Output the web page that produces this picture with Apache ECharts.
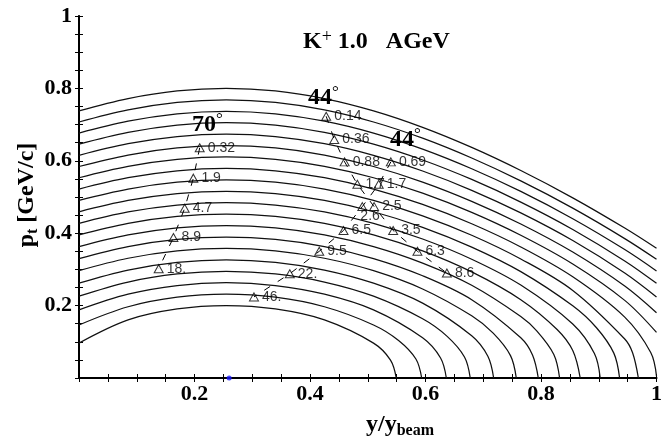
<!DOCTYPE html>
<html>
<head>
<meta charset="utf-8">
<script src="https://cdn.jsdelivr.net/npm/echarts@6/dist/echarts.min.js"></script>
<style>
  html, body { margin: 0; padding: 0; background: #fff; }
  #chart { width: 665px; height: 438px; }
</style>
</head>
<body>
<div id="chart"></div>
<script>
// Lines of constant kaon momentum (0.20 ... 0.80 GeV/c), sampled as [y/ybeam, pt]
const curveP200 = [[0,0.0964],[0.085,0.1605],[0.17,0.1907],[0.255,0.2],[0.34,0.1907],[0.425,0.1605],[0.51,0.0964],[0.5394,0.0495],[0.5494,0]];
const curveP232 = [[0,0.1465],[0.085,0.1968],[0.17,0.2232],[0.255,0.2316],[0.34,0.2232],[0.425,0.1968],[0.51,0.1465],[0.5534,0.1037],[0.5834,0.0525],[0.5934,0]];
const curveP263 = [[0,0.1882],[0.085,0.2315],[0.17,0.2554],[0.255,0.2632],[0.34,0.2554],[0.425,0.2315],[0.51,0.1882],[0.595,0.1111],[0.6261,0.0554],[0.6361,0]];
const curveP295 = [[0,0.2260],[0.085,0.2651],[0.17,0.2874],[0.255,0.2947],[0.34,0.2874],[0.425,0.2651],[0.51,0.2260],[0.595,0.1635],[0.6375,0.1150],[0.6675,0.0579],[0.6775,0]];
const curveP326 = [[0,0.2619],[0.085,0.2982],[0.17,0.3193],[0.255,0.3263],[0.34,0.3193],[0.425,0.2982],[0.51,0.2619],[0.595,0.2068],[0.68,0.1166],[0.708,0.0600],[0.718,0]];
const curveP358 = [[0,0.2964],[0.085,0.3308],[0.17,0.3512],[0.255,0.3579],[0.34,0.3512],[0.425,0.3308],[0.51,0.2964],[0.595,0.2459],[0.68,0.1717],[0.7172,0.1238],[0.7472,0.0619],[0.7572,0]];
const curveP389 = [[0,0.3300],[0.085,0.3632],[0.17,0.3829],[0.255,0.3895],[0.34,0.3829],[0.425,0.3632],[0.51,0.3300],[0.595,0.2825],[0.68,0.2164],[0.765,0.1110],[0.7853,0.0636],[0.7953,0]];
const curveP421 = [[0,0.3630],[0.085,0.3952],[0.17,0.4146],[0.255,0.4211],[0.34,0.4146],[0.425,0.3952],[0.51,0.3630],[0.595,0.3174],[0.68,0.2562],[0.765,0.1700],[0.7922,0.1309],[0.8222,0.0651],[0.8322,0]];
const curveP453 = [[0,0.3953],[0.085,0.4270],[0.17,0.4462],[0.255,0.4526],[0.34,0.4462],[0.425,0.4270],[0.51,0.3953],[0.595,0.3511],[0.68,0.2930],[0.765,0.2162],[0.8279,0.1338],[0.855,0.0757],[0.8679,0]];
const curveP484 = [[0,0.4274],[0.085,0.4588],[0.17,0.4778],[0.255,0.4842],[0.34,0.4778],[0.425,0.4588],[0.51,0.4274],[0.595,0.3840],[0.68,0.3281],[0.765,0.2567],[0.855,0.1490],[0.8925,0.0676],[0.9025,0]];
const curveP516 = [[0,0.4592],[0.085,0.4904],[0.17,0.5094],[0.255,0.5158],[0.34,0.5094],[0.425,0.4904],[0.51,0.4592],[0.595,0.4163],[0.68,0.3617],[0.765,0.2939],[0.855,0.1994],[0.8961,0.1388],[0.9261,0.0687],[0.9361,0]];
const curveP547 = [[0,0.4908],[0.085,0.5219],[0.17,0.5410],[0.255,0.5474],[0.34,0.5410],[0.425,0.5219],[0.51,0.4908],[0.595,0.4481],[0.68,0.3944],[0.765,0.3288],[0.855,0.2418],[0.945,0.1078],[0.9586,0.0696],[0.9686,0]];
const curveP579 = [[0,0.5220],[0.085,0.5533],[0.17,0.5724],[0.255,0.5789],[0.34,0.5724],[0.425,0.5533],[0.51,0.5220],[0.595,0.4794],[0.68,0.4261],[0.765,0.3620],[0.855,0.2796],[0.945,0.1682],[0.99,0.0705],[1.0,0.005]];
const curveP611 = [[0,0.5532],[0.085,0.5846],[0.17,0.6040],[0.255,0.6105],[0.34,0.6040],[0.425,0.5846],[0.51,0.5532],[0.595,0.5105],[0.68,0.4574],[0.765,0.3942],[0.855,0.3148],[0.945,0.2144],[1.0,0.1259]];
const curveP642 = [[0,0.5842],[0.085,0.6159],[0.17,0.6355],[0.255,0.6421],[0.34,0.6355],[0.425,0.6159],[0.51,0.5842],[0.595,0.5413],[0.68,0.4881],[0.765,0.4255],[0.855,0.3480],[0.945,0.2541],[1.0,0.1803]];
const curveP674 = [[0,0.6151],[0.085,0.6472],[0.17,0.6670],[0.255,0.6737],[0.34,0.6670],[0.425,0.6472],[0.51,0.6151],[0.595,0.5718],[0.68,0.5185],[0.765,0.4560],[0.855,0.3797],[0.945,0.2900],[1.0,0.2237]];
const curveP705 = [[0,0.6459],[0.085,0.6784],[0.17,0.6985],[0.255,0.7053],[0.34,0.6985],[0.425,0.6784],[0.51,0.6459],[0.595,0.6022],[0.68,0.5485],[0.765,0.4860],[0.855,0.4104],[0.945,0.3234],[1.0,0.2615]];
const curveP737 = [[0,0.6766],[0.085,0.7095],[0.17,0.7299],[0.255,0.7368],[0.34,0.7299],[0.425,0.7095],[0.51,0.6766],[0.595,0.6323],[0.68,0.5781],[0.765,0.5154],[0.855,0.4401],[0.945,0.3549],[1.0,0.2958]];
const curveP768 = [[0,0.7072],[0.085,0.7407],[0.17,0.7614],[0.255,0.7684],[0.34,0.7614],[0.425,0.7407],[0.51,0.7072],[0.595,0.6624],[0.68,0.6076],[0.765,0.5444],[0.855,0.4692],[0.945,0.3851],[1.0,0.3279]];
const curveP800 = [[0,0.7378],[0.085,0.7718],[0.17,0.7929],[0.255,0.8],[0.34,0.7929],[0.425,0.7718],[0.51,0.7378],[0.595,0.6923],[0.68,0.6369],[0.765,0.5731],[0.855,0.4977],[0.945,0.4142],[1.0,0.3583]];

const isoMomentumCurves = [
  curveP200, curveP232, curveP263, curveP295, curveP326, curveP358, curveP389,
  curveP421, curveP453, curveP484, curveP516, curveP547, curveP579, curveP611,
  curveP642, curveP674, curveP705, curveP737, curveP768, curveP800
];

// Measured K+ points at fixed laboratory angle: [y/ybeam, pt] and their yields
const angle70Points = [[0.209,0.636],[0.198,0.552],[0.183,0.469],[0.1635,0.388],[0.138,0.302]];
const angle70Labels = ['0.32','1.9','4.7','8.9','18.'];

const angle44aPoints = [[0.428,0.723],[0.442,0.659],[0.460,0.597],[0.482,0.535],[0.511,0.4735],[0.544,0.4075],[0.586,0.350],[0.637,0.290]];
const angle44aLabels = ['0.14','0.36','0.88','1.7','2.5','3.5','6.3','8.6'];

const angle44bPoints = [[0.540,0.597],[0.519,0.535],[0.4906,0.4735],[0.458,0.4075],[0.416,0.350],[0.365,0.288],[0.303,0.224]];
const angle44bLabels = ['0.69','1.7','2.6','6.5','9.5','22.','46.'];

// Mid-rapidity marker on the rapidity axis
const midRapidity = [[0.26, 0]];

// Axis tick labels, one for every fourth tick (0.05 spacing)
const axisTickLabels = { 4: '0.2', 8: '0.4', 12: '0.6', 16: '0.8', 20: '1' };

const SERIF = 'Liberation Serif, Times New Roman, serif';
const SANS = 'Liberation Sans, Arial, sans-serif';

function tickLabel(v) {
  const k = Math.round(v * 20);
  return axisTickLabels[k] || '';
}

const chart = echarts.init(document.getElementById('chart'), null, { renderer: 'canvas' });

const curveSeries = isoMomentumCurves.map(function (pts) {
  return {
    type: 'line',
    data: pts,
    smooth: 0.35,
    showSymbol: false,
    silent: true,
    clip: true,
    z: 2,
    lineStyle: { color: '#111', width: 1.25 }
  };
});

function angleLine(points) {
  return {
    type: 'line',
    data: points,
    showSymbol: false,
    silent: true,
    z: 3,
    lineStyle: { color: '#000', width: 1, type: [7, 9] }
  };
}

function anglePoints(points, labels, special) {
  return {
    type: 'scatter',
    z: 4,
    symbol: 'triangle',
    symbolSize: [9, 8],
    itemStyle: { color: 'rgba(0,0,0,0)', borderColor: '#000', borderWidth: 1 },
    data: points.map(function (p, i) {
      const item = { value: p };
      if (special && special[labels[i]]) item.label = special[labels[i]];
      return item;
    }),
    label: {
      show: true,
      position: 'right',
      distance: 3,
      color: '#000',
      fontFamily: SANS,
      fontSize: 14,
      formatter: function (params) { return labels[params.dataIndex]; }
    }
  };
}

const option = {
  animation: false,
  backgroundColor: '#fff',
  grid: { left: 79, right: 3, top: 16, bottom: 60 },
  xAxis: [
    {
      type: 'value', min: 0, max: 1, interval: 0.05, position: 'bottom',
      axisLine: { lineStyle: { color: '#000', width: 2 } },
      axisTick: { inside: true, length: 4, lineStyle: { color: '#000', width: 1 } },
      splitLine: { show: false },
      axisLabel: {
        formatter: tickLabel, color: '#000', fontFamily: SERIF,
        fontWeight: 'bold', fontSize: 22, margin: 5
      }
    },
    {
      type: 'value', min: 0, max: 1, interval: 0.05, position: 'top',
      axisLine: { lineStyle: { color: '#000', width: 1.5 } },
      axisTick: { inside: true, length: 4, lineStyle: { color: '#000', width: 1 } },
      splitLine: { show: false },
      axisLabel: { show: false }
    }
  ],
  yAxis: [
    {
      type: 'value', min: 0, max: 1, interval: 0.05, position: 'left',
      axisLine: { show: true, lineStyle: { color: '#000', width: 2 } },
      axisTick: { show: true, inside: true, length: 4, lineStyle: { color: '#000', width: 1 } },
      splitLine: { show: false },
      axisLabel: {
        formatter: tickLabel, color: '#000', fontFamily: SERIF,
        fontWeight: 'bold', fontSize: 22, margin: 7
      }
    },
    {
      type: 'value', min: 0, max: 1, interval: 0.05, position: 'right',
      axisLine: { show: true, lineStyle: { color: '#000', width: 1.5 } },
      axisTick: { show: true, inside: true, length: 4, lineStyle: { color: '#000', width: 1 } },
      splitLine: { show: false },
      axisLabel: { show: false }
    }
  ],
  series: curveSeries.concat([
    angleLine(angle70Points),
    angleLine(angle44aPoints),
    angleLine(angle44bPoints),
    anglePoints(angle70Points, angle70Labels),
    anglePoints(angle44aPoints, angle44aLabels),
    anglePoints(angle44bPoints, angle44bLabels, {
      '2.6': { offset: [-10, 10] }
    }),
    {
      type: 'scatter',
      z: 5,
      silent: true,
      symbol: 'circle',
      symbolSize: 5,
      itemStyle: { color: '#1a1aff' },
      data: midRapidity
    }
  ]),
  graphic: [
    {
      type: 'text', x: 303, y: 42, z: 10,
      style: {
        text: '{k|K}{p|+}{t| 1.0   AGeV}',
        verticalAlign: 'middle', align: 'left',
        rich: {
          k: { fontFamily: SERIF, fontWeight: 'bold', fontSize: 24, lineHeight: 28, fill: '#000' },
          p: { fontFamily: SERIF, fontSize: 18, lineHeight: 21, verticalAlign: 'top', fill: '#000' },
          t: { fontFamily: SERIF, fontWeight: 'bold', fontSize: 24, lineHeight: 28, fill: '#000' }
        }
      }
    },
    angleTitle('70', 192, 125),
    angleTitle('44', 308, 98),
    angleTitle('44', 390, 140),
    {
      type: 'text', x: 27, y: 195, rotation: Math.PI / 2, z: 10,
      style: {
        text: '{p|p}{s|t}{r| [GeV/c]}',
        align: 'center', verticalAlign: 'middle',
        rich: {
          p: { fontFamily: SERIF, fontWeight: 'bold', fontSize: 24, lineHeight: 28, fill: '#000' },
          s: { fontFamily: SERIF, fontWeight: 'bold', fontSize: 16, lineHeight: 14, verticalAlign: 'bottom', fill: '#000' },
          r: { fontFamily: SERIF, fontWeight: 'bold', fontSize: 24, lineHeight: 28, fill: '#000' }
        }
      }
    },
    {
      type: 'text', x: 400, y: 425, z: 10,
      style: {
        text: '{y|y/y}{s|beam}',
        align: 'center', verticalAlign: 'middle',
        rich: {
          y: { fontFamily: SERIF, fontWeight: 'bold', fontSize: 24, lineHeight: 28, fill: '#000' },
          s: { fontFamily: SERIF, fontWeight: 'bold', fontSize: 16, lineHeight: 14, verticalAlign: 'bottom', fill: '#000' }
        }
      }
    }
  ]
};

function angleTitle(deg, x, y) {
  return {
    type: 'text', x: x, y: y, z: 10,
    style: {
      text: '{n|' + deg + '}{d|°}',
      align: 'left', verticalAlign: 'middle',
      rich: {
        n: { fontFamily: SERIF, fontWeight: 'bold', fontSize: 24, lineHeight: 28, fill: '#000' },
        d: { fontFamily: SERIF, fontSize: 17, lineHeight: 22, verticalAlign: 'top', fill: '#000' }
      }
    }
  };
}

chart.setOption(option);
</script>
</body>
</html>
